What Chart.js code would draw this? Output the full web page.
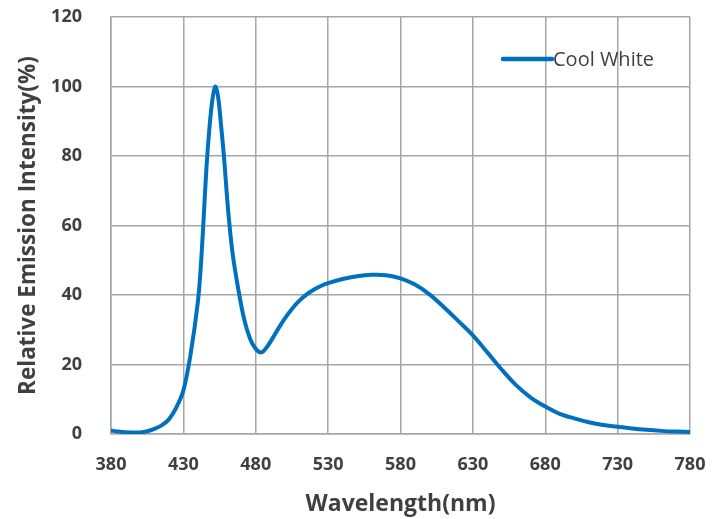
<!DOCTYPE html>
<html>
<head>
<meta charset="utf-8">
<script src="https://cdn.jsdelivr.net/npm/chart.js@4.4.0/dist/chart.umd.min.js"></script>
<style>
  html, body { margin: 0; padding: 0; background: #fff; }
  #wrap { width: 724px; height: 519px; }
</style>
</head>
<body>
<div id="wrap"><canvas id="chart" width="724" height="519"></canvas></div>
<script>
// spectrum
const wavelengths = [380, 385, 390, 395, 400, 405, 410, 415, 420, 425, 430, 435, 440, 442, 444, 446, 448, 450, 452, 454, 456, 458, 461, 464, 468, 472, 476, 480, 484, 488, 492, 496, 500, 505, 510, 515, 520, 525, 530, 540, 550, 560, 570, 580, 590, 600, 610, 620, 630, 640, 650, 660, 670, 680, 690, 700, 710, 720, 730, 740, 750, 760, 770, 780];
const intensity = [1.0, 0.7, 0.5, 0.45, 0.45, 0.8, 1.5, 2.5, 4.2, 7.5, 12.5, 23, 38, 48, 62, 77, 88, 96, 100, 97, 89, 80, 64, 52, 41.5, 33, 27.5, 24.5, 23.5, 25.2, 27.8, 30.6, 33.2, 36, 38.3, 40.1, 41.5, 42.6, 43.4, 44.6, 45.4, 45.8, 45.7, 44.8, 43, 40.2, 36.5, 32.5, 28.4, 23.5, 18.5, 14, 10.5, 7.9, 5.8, 4.5, 3.4, 2.6, 2.1, 1.6, 1.2, 0.9, 0.7, 0.6];
const xTicks = [380, 430, 480, 530, 580, 630, 680, 730, 780];
const yTicks = [0, 20, 40, 60, 80, 100, 120];
const seriesName = 'Cool White';

const lineColor = '#0070C0';
const gridColor = '#A6A6A6';
const textColor = '#404040';
const fontFamily = '"Open Sans", sans-serif';

// legend drawn inside the plot, top right
const insideLegend = {
    id: 'insideLegend',
    afterDraw(chart) {
        const ctx = chart.ctx;
        const area = chart.chartArea;
        const x0 = area.right - 187;
        const y0 = area.top + 42;
        ctx.save();
        ctx.strokeStyle = lineColor;
        ctx.lineWidth = 4.5;
        ctx.lineCap = 'round';
        ctx.beginPath();
        ctx.moveTo(x0, y0);
        ctx.lineTo(x0 + 49, y0);
        ctx.stroke();
        ctx.fillStyle = textColor;
        ctx.font = '20px ' + fontFamily;
        ctx.textBaseline = 'middle';
        ctx.fillText(chart.data.datasets[0].label, x0 + 50, y0 + 1);
        ctx.restore();
    }
};

const ctx = document.getElementById('chart').getContext('2d');
new Chart(ctx, {
    type: 'line',
    data: {
        datasets: [{
            label: seriesName,
            data: wavelengths.map((w, i) => ({ x: w, y: intensity[i] })),
            borderColor: lineColor,
            borderWidth: 4,
            pointRadius: 0,
            tension: 0.35,
            fill: false
        }]
    },
    options: {
        responsive: false,
        animation: false,
        layout: { padding: { left: 0, right: 34, top: 17, bottom: 0 } },
        plugins: {
            legend: { display: false },
            tooltip: { enabled: false }
        },
        scales: {
            x: {
                type: 'linear',
                min: 380,
                max: 780,
                afterBuildTicks: axis => { axis.ticks = xTicks.map(v => ({ value: v })); },
                afterFit: axis => { axis.height = 85; axis.paddingLeft = 0; axis.paddingRight = 0; },
                grid: { color: gridColor, lineWidth: 1.5, drawTicks: false },
                border: { color: gridColor, width: 1.5 },
                ticks: {
                    color: textColor,
                    padding: 20,
                    maxRotation: 0,
                    font: { family: fontFamily, size: 18, weight: 'bold' }
                },
                title: {
                    display: true,
                    text: 'Wavelength(nm)',
                    color: textColor,
                    padding: 1,
                    font: { family: fontFamily, size: 23, weight: 'bold' }
                }
            },
            y: {
                min: 0,
                max: 120,
                afterBuildTicks: axis => { axis.ticks = yTicks.map(v => ({ value: v })); },
                afterFit: axis => { axis.width = 111; axis.paddingTop = 0; axis.paddingBottom = 0; },
                grid: { color: gridColor, lineWidth: 1.5, drawTicks: false },
                border: { color: gridColor, width: 1.5 },
                ticks: {
                    color: textColor,
                    padding: 29,
                    font: { family: fontFamily, size: 18, weight: 'bold' }
                },
                title: {
                    display: true,
                    text: 'Relative Emission Intensity(%)',
                    color: textColor,
                    padding: 15,
                    font: { family: fontFamily, size: 22.5, weight: 'bold' }
                }
            }
        }
    },
    plugins: [insideLegend]
});
</script>
</body>
</html>
